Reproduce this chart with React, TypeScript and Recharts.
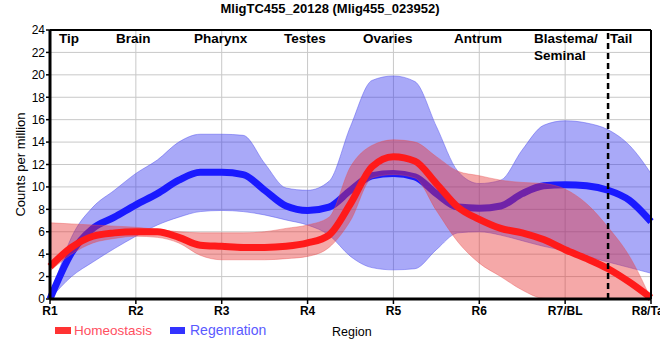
import React from "react";
import {
  Area,
  CartesianGrid,
  ComposedChart,
  Line,
  ReferenceLine,
  XAxis,
  YAxis,
} from "recharts";

// sample positions along the body axis (1 = R1 ... 8 = R8/Tail)
const regionX = [
  1, 1.25, 1.5, 1.75, 2, 2.25, 2.5, 2.75, 3, 3.25, 3.5, 3.75, 4, 4.25, 4.5,
  4.75, 5, 5.25, 5.5, 5.75, 6, 6.25, 6.5, 6.75, 7, 7.25, 7.5, 7.75, 8,
];
const regionTicks = [1, 2, 3, 4, 5, 6, 7, 8];
const regionNames = ["R1", "R2", "R3", "R4", "R5", "R6", "R7/BL", "R8/Tail"];

const homMean = [
  2.9, 4.6, 5.6, 5.9, 6.0, 6.0, 5.5, 4.8, 4.7, 4.6, 4.6, 4.7, 5.0, 5.7, 8.5,
  11.8, 12.7, 12.3, 10.3, 8.2, 7.1, 6.3, 5.9, 5.3, 4.4, 3.6, 2.7, 1.5, 0.1,
];
const homLow = [
  2.5, 4.0, 5.0, 5.4, 5.6, 5.5, 5.0, 3.9, 3.5, 3.5, 3.5, 3.6, 3.8, 4.6, 7.0,
  10.8, 11.1, 10.8, 7.9, 5.1, 3.2, 2.0, 0.8, 0.05, 0, 0, 0, 0, 0,
];
const homHigh = [
  6.8, 6.7, 6.6, 6.5, 6.4, 6.2, 6.0, 5.9, 5.9, 5.9, 6.0, 6.3, 6.6, 7.3, 11.8,
  13.7, 14.2, 14.0, 12.7, 11.4, 11.0, 10.6, 10.4, 10.3, 9.8, 8.5, 6.4, 3.8, 0,
];
const regMean = [
  0, 4.1, 6.3, 7.3, 8.4, 9.4, 10.6, 11.3, 11.3, 11.1, 9.7, 8.3, 7.9, 8.2, 9.7,
  11.0, 11.2, 10.9, 9.4, 8.2, 8.1, 8.3, 9.4, 10.1, 10.2, 10.1, 9.7, 8.8, 6.9,
];
const regLow = [
  0, 2.0, 3.3, 4.5, 5.6, 6.6, 7.3, 7.8, 7.9, 7.8, 7.5, 7.05, 6.6, 5.7, 3.8,
  2.8, 2.6, 2.7, 4.4, 5.9, 6.0, 5.7, 5.2, 4.7, 4.3, 3.8, 3.3, 2.8, 2.3,
];
const regHigh = [
  0, 5.5, 8.2, 9.7, 11.2, 12.4, 14.0, 14.7, 14.7, 14.6, 12.1, 9.9, 9.7, 10.5,
  15.4, 19.5, 19.9, 19.4, 15.4, 11.4, 10.3, 10.6, 13.3, 15.5, 15.9, 15.7, 15.1,
  13.7, 11.2,
];

const yTicks = [0, 2, 4, 6, 8, 10, 12, 14, 16, 18, 20, 22, 24];

const tissueNames = [
  ["Tip"],
  ["Brain"],
  ["Pharynx"],
  ["Testes"],
  ["Ovaries"],
  ["Antrum"],
  ["Blastema/", "Seminal"],
  ["Tail"],
];
const tissueStart = [1.105, 1.769, 2.677, 3.725, 4.645, 5.705, 6.637, 7.522];

const data = regionX.map((x, i) => ({
  x,
  homBand: [homLow[i], homHigh[i]],
  hom: homMean[i],
  regBand: [regLow[i], regHigh[i]],
  reg: regMean[i],
}));

const FONT = "'Liberation Sans', Arial, sans-serif";

const TissueLabel = ({ viewBox, lines }: any) => {
  if (!viewBox) return null;
  return (
    <text
      x={viewBox.x}
      y={viewBox.y + 13}
      fontFamily={FONT}
      fontSize={13.5}
      fontWeight="bold"
      fill="#000"
      textAnchor="start"
    >
      {lines.map((l: string, i: number) => (
        <tspan key={i} x={viewBox.x} dy={i === 0 ? 0 : 16.5}>
          {l}
        </tspan>
      ))}
    </text>
  );
};

export default function App() {
  return (
    <div
      style={{
        position: "absolute",
        left: 0,
        top: 0,
        width: 660,
        height: 360,
        overflow: "hidden",
        background: "#fff",
        fontFamily: FONT,
      }}
    >
      <ComposedChart
        width={660}
        height={360}
        data={data}
        margin={{ top: 30, right: 9, left: 0, bottom: 31 }}
      >
        <CartesianGrid stroke="#c8c8c8" strokeWidth={1} />
        <XAxis
          dataKey="x"
          type="number"
          domain={[1, 8]}
          ticks={regionTicks}
          tickFormatter={(v: number) => regionNames[v - 1]}
          height={30}
          axisLine={{ stroke: "#000", strokeWidth: 3 }}
          tickLine={{ stroke: "#000", strokeWidth: 1.5 }}
          tickSize={5}
          tick={{ fill: "#000", fontSize: 12, fontWeight: "bold", fontFamily: FONT }}
          interval={0}
        />
        <YAxis
          type="number"
          domain={[0, 24]}
          ticks={yTicks}
          width={50}
          axisLine={{ stroke: "#000", strokeWidth: 3 }}
          tickLine={{ stroke: "#000", strokeWidth: 1.5 }}
          tickSize={4}
          tickMargin={1}
          tick={{ fill: "#000", fontSize: 12, fontFamily: FONT }}
          interval={0}
          label={{
            content: ({ viewBox }: any) => (
              <text
                transform={`translate(${viewBox.x + 20},${viewBox.y + viewBox.height / 2}) rotate(-90)`}
                textAnchor="middle"
                dominantBaseline="central"
                fontFamily={FONT}
                fontSize={13}
                fill="#000"
              >
                Counts per million
              </text>
            ),
          }}
        />
        <Area
          dataKey="regBand"
          type="monotone"
          fill="#3333ee"
          fillOpacity={0.42}
          stroke="#5555ee"
          strokeOpacity={0.5}
          strokeWidth={1}
          isAnimationActive={false}
        />
        {/* drawn as an unfilled Area so the red band sits on top of it */}
        <Area
          dataKey="reg"
          type="monotone"
          fill="none"
          stroke="#1a1aff"
          strokeWidth={7}
          dot={false}
          activeDot={false}
          isAnimationActive={false}
        />
        <Area
          dataKey="homBand"
          type="monotone"
          fill="#e83030"
          fillOpacity={0.42}
          stroke="#e85050"
          strokeOpacity={0.4}
          strokeWidth={1}
          isAnimationActive={false}
        />
        <Line
          dataKey="hom"
          type="monotone"
          stroke="#ff1a1a"
          strokeWidth={7}
          dot={false}
          isAnimationActive={false}
        />
        <ReferenceLine y={24} stroke="#000" strokeWidth={2} />
        <ReferenceLine x={8} stroke="#000" strokeWidth={2} />
        <ReferenceLine
          x={7.5}
          stroke="#000"
          strokeWidth={2.5}
          strokeDasharray="6 4"
        />
        {tissueNames.map((lines, i) => (
          <ReferenceLine
            key={i}
            x={tissueStart[i]}
            stroke="none"
            label={(props: any) => <TissueLabel {...props} lines={lines} />}
          />
        ))}
      </ComposedChart>
      <svg
        width={660}
        height={360}
        style={{ position: "absolute", left: 0, top: 0, pointerEvents: "none" }}
      >
        <text
          x={330}
          y={13}
          textAnchor="middle"
          fontFamily={FONT}
          fontSize={13}
          fontWeight="bold"
          fill="#000"
        >
          MligTC455_20128 (Mlig455_023952)
        </text>
        <rect x={55} y={327} width={16} height={7} fill="#ff3333" />
        <text x={74} y={335} fontFamily={FONT} fontSize={13.5} fill="#ff4f5f">
          Homeostasis
        </text>
        <rect x={170} y={327} width={15} height={7} fill="#3333ff" />
        <text x={190} y={335} fontFamily={FONT} fontSize={14} fill="#5a5aff">
          Regenration
        </text>
        <text x={332} y={335.5} fontFamily={FONT} fontSize={12.5} fill="#000">
          Region
        </text>
      </svg>
    </div>
  );
}
